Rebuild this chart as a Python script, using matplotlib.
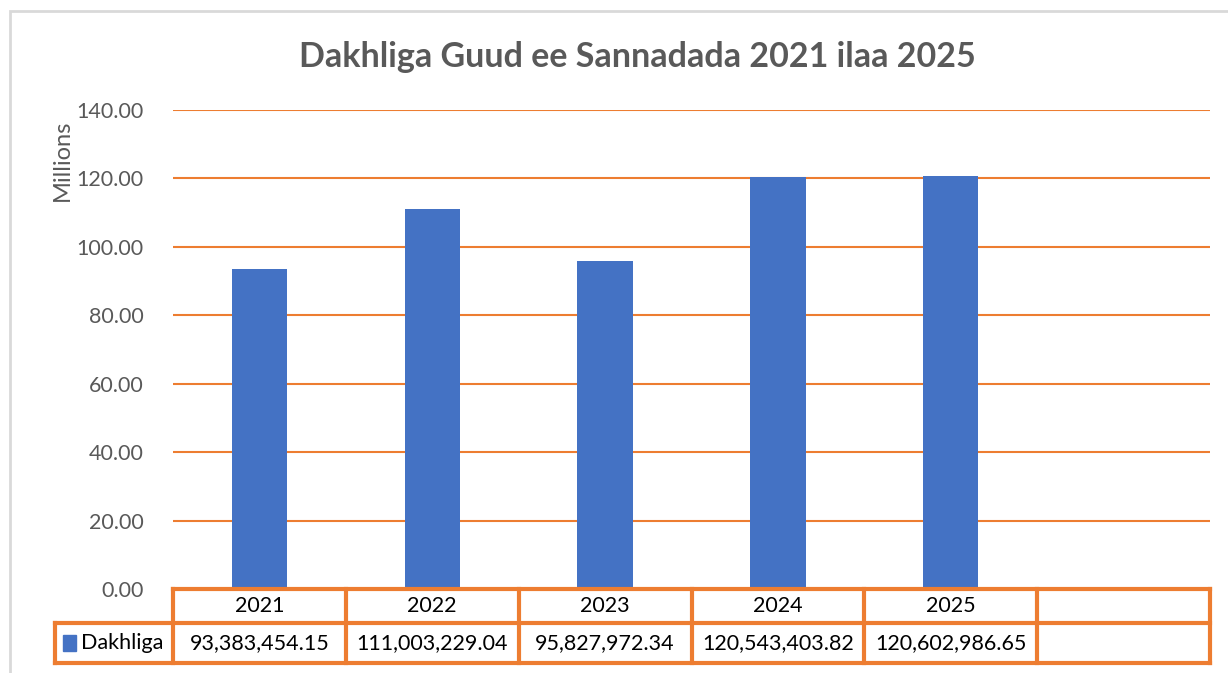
import matplotlib
matplotlib.use("Agg")
import matplotlib.pyplot as plt
from matplotlib.patches import Rectangle
from matplotlib.transforms import blended_transform_factory

years = ["2021", "2022", "2023", "2024", "2025"]
dakhliga = [93383454.15, 111003229.04, 95827972.34, 120543403.82, 120602986.65]
series_name = "Dakhliga"
title = "Dakhliga Guud ee Sannadada 2021 ilaa 2025"
yticks = [0, 20, 40, 60, 80, 100, 120, 140]

BLUE = "#4472C4"
ORANGE = "#ED7D31"
GREY = "#595959"
FONT = ["Lato", "DejaVu Sans"]

plt.rcParams["font.family"] = FONT

W, H = 1228, 673
fig = plt.figure(figsize=(W / 100, H / 100), dpi=100)
ax = fig.add_axes([173 / W, (H - 589) / H, (1210 - 173) / W, (589 - 110) / H])

n_slots = len(years) + 1  # Excel leaves one empty category at the end
xs = [i + 0.5 for i in range(len(years))]
vals = [v / 1e6 for v in dakhliga]
ax.bar(xs, vals, width=0.32, color=BLUE, zorder=3)

ax.set_xlim(0, n_slots)
ax.set_ylim(0, 140)
ax.set_yticks(yticks)
ax.set_yticklabels(["%.2f" % t for t in yticks], color=GREY, fontsize=15.5)
ax.tick_params(axis="y", length=0, pad=21)
ax.set_xticks([])
for s in ax.spines.values():
    s.set_visible(False)
for t in yticks[1:]:
    ax.axhline(t, color=ORANGE, lw=1.5, zorder=1)

# data table under the plot
tr = blended_transform_factory(ax.transData, ax.transAxes)
ah = 589 - 110
r1 = -34 / ah
r2 = -74 / ah
left = -118 / 172.8
lk = dict(color=ORANGE, lw=3, transform=tr, clip_on=False, zorder=5,
          solid_capstyle="projecting")
ax.plot([0, n_slots], [0, 0], **lk)
ax.plot([left, n_slots], [r1, r1], **lk)
ax.plot([left, n_slots], [r2, r2], **lk)
ax.plot([left, left], [r1, r2], **lk)
for i in range(n_slots + 1):
    ax.plot([i, i], [0, r2], **lk)

for x, y, v in zip(xs, years, dakhliga):
    ax.text(x, r1 / 2, y, transform=tr, ha="center", va="center",
            fontsize=15.5, color="black")
    ax.text(x, (r1 + r2) / 2, "{:,.2f}".format(v), transform=tr,
            ha="center", va="center", fontsize=15.5, color="black")

ax.add_patch(Rectangle((left + 0.045, (r1 + r2) / 2 - 0.016), 0.075, 0.032,
                       transform=tr, color=BLUE, clip_on=False))
ax.text(left + 0.15, (r1 + r2) / 2, series_name, transform=tr,
        ha="left", va="center", fontsize=15.5, color="black")

fig.text(637 / W, 1 - 57 / H, title, ha="center", va="center",
         fontsize=24.5, fontweight="bold", color=GREY)
fig.text(62 / W, 1 - 160 / H, "Millions", rotation=90, ha="center",
         va="center", fontsize=17, color=GREY)

# chart frame
fig.patches.append(Rectangle((10 / W, -0.1), 1.2, 1 - 11 / H + 0.1,
                             transform=fig.transFigure, fill=False,
                             edgecolor="#D9D9D9", lw=2))

fig.savefig("out.png", dpi=100)
